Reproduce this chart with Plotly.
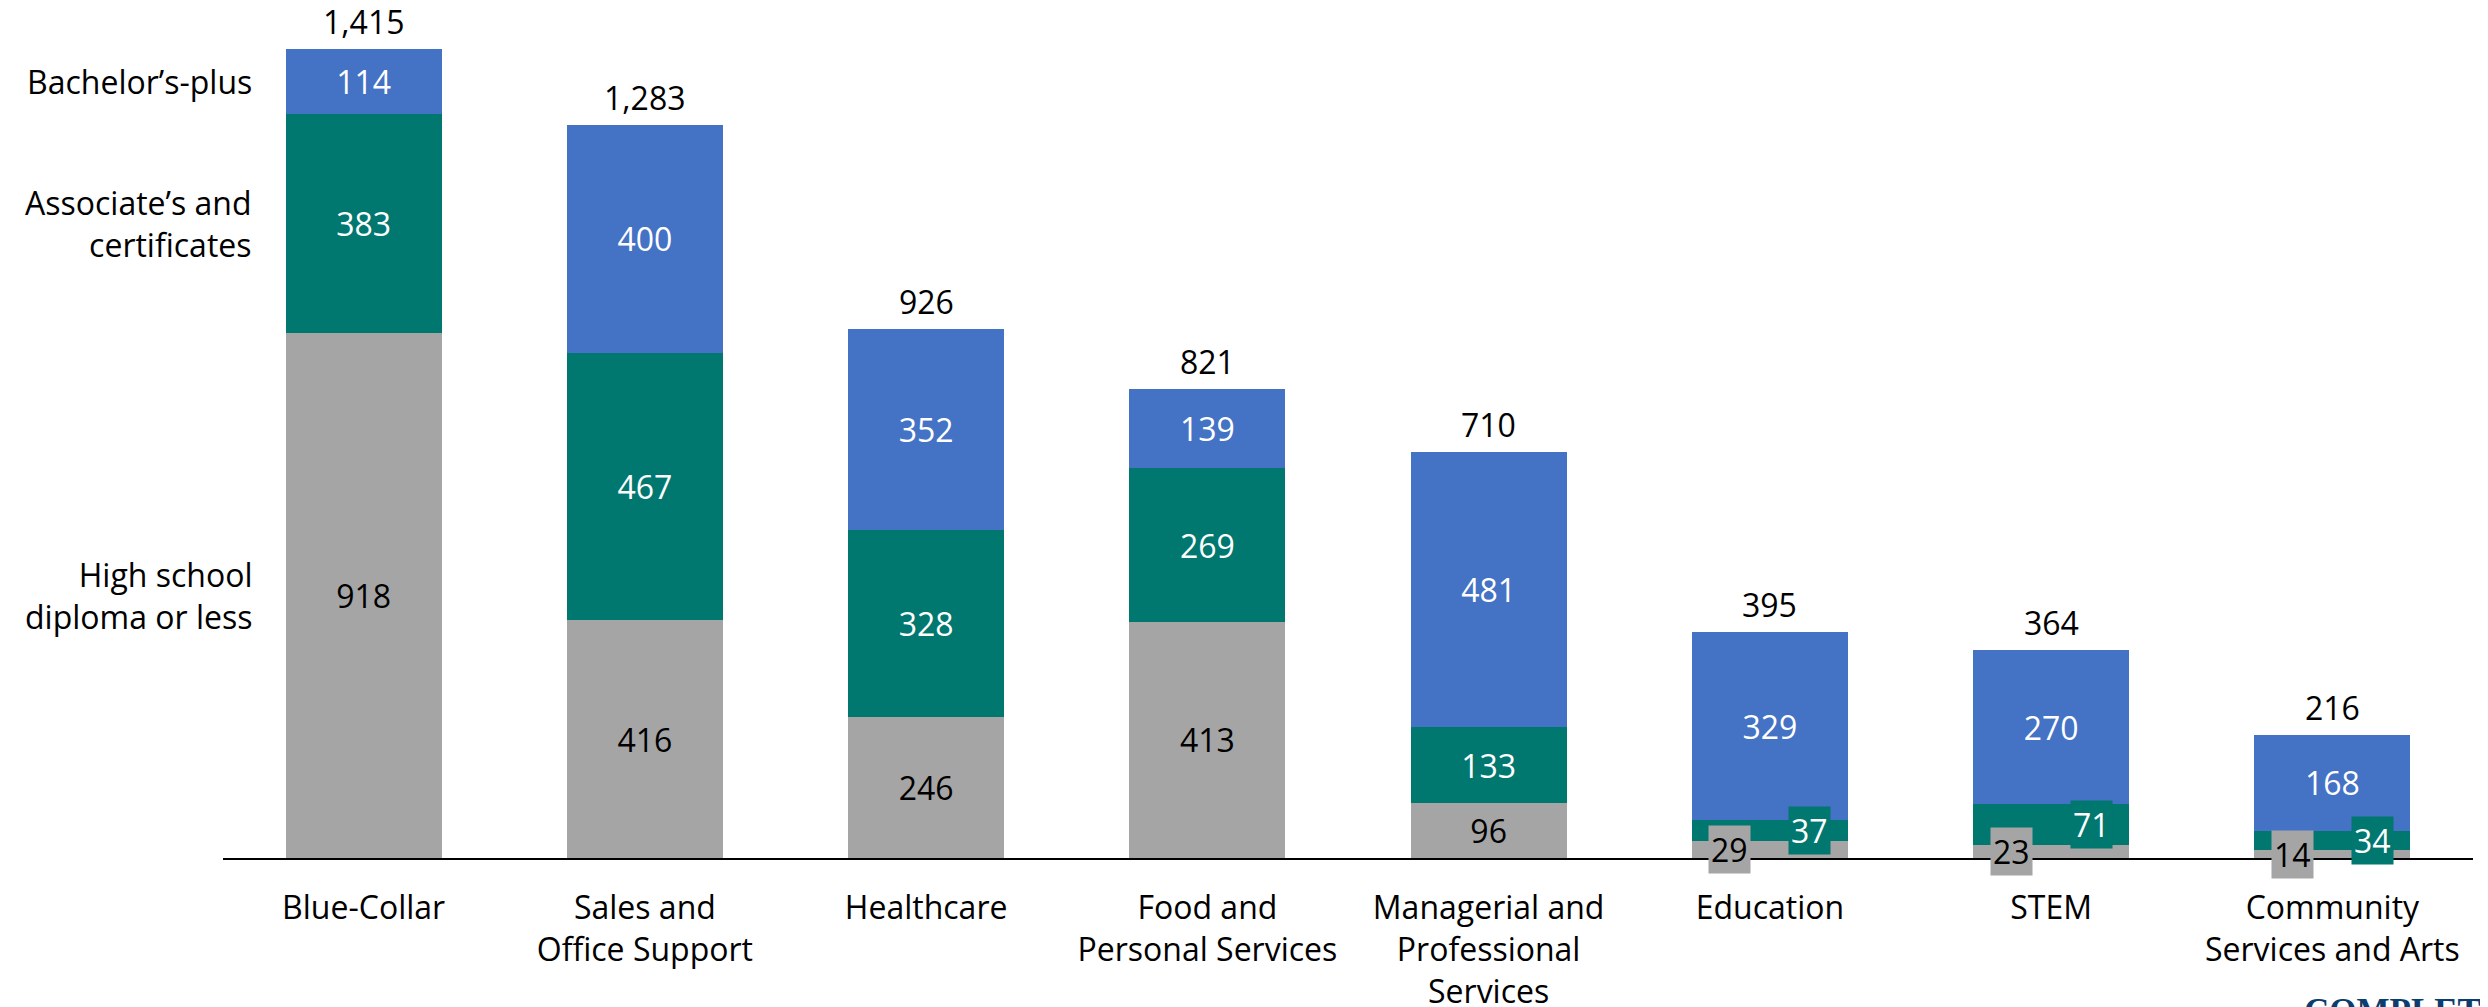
import plotly.graph_objects as go

# occupation groups (x), thousands of jobs by education level
categories = ["Blue-Collar", "Sales and<br>Office Support", "Healthcare",
              "Food and<br>Personal Services", "Managerial and<br>Professional<br>Services",
              "Education", "STEM", "Community<br>Services and Arts"]
hs_or_less = [918, 416, 246, 413, 96, 29, 23, 14]
associates = [383, 467, 328, 269, 133, 37, 71, 34]
bachelors = [114, 400, 352, 139, 481, 329, 270, 168]
totals = [1415, 1283, 926, 821, 710, 395, 364, 216]

series_names = ["High school<br>diploma or less", "Associate’s and<br>certificates", "Bachelor’s-plus"]
series_vals = [hs_or_less, associates, bachelors]
colors = ["#A5A5A5", "#00776F", "#4472C4"]
text_colors = ["black", "white", "white"]

FONT = "Open Sans"
FS = 32
SMALL = 80  # segments under this get a callout label beside the bar

fig = go.Figure()
for name, vals, col, tcol in zip(series_names, series_vals, colors, text_colors):
    fig.add_trace(go.Bar(
        x=categories, y=vals, name=name,
        marker=dict(color=col, line=dict(width=0)),
        text=[f"{v:,}" if v >= SMALL else "" for v in vals],
        textposition="inside", insidetextanchor="middle", textangle=0,
        textfont=dict(family=FONT, size=FS, color=tcol),
        hoverinfo="skip",
    ))

# callout labels for thin segments (gray to the left, green to the right)
for i, cat in enumerate(categories):
    base = 0
    for k, (vals, col, tcol) in enumerate(zip(series_vals, colors, text_colors)):
        v = vals[i]
        if v < SMALL:
            fig.add_annotation(
                x=cat, y=base + v / 2, text=f"{v:,}", showarrow=False,
                xshift=-40 if k == 0 else 40,
                font=dict(family=FONT, size=FS, color=tcol),
                bgcolor=col, borderpad=2,
            )
        base += v

# totals above bars
for cat, t in zip(categories, totals):
    fig.add_annotation(
        x=cat, y=t, text=f"{t:,}", showarrow=False,
        yanchor="bottom", yshift=4,
        font=dict(family=FONT, size=FS, color="black"),
    )

# series labels on the left, next to the first bar
base = 0
for name, vals in zip(series_names, series_vals):
    v = vals[0]
    fig.add_annotation(
        xref="paper", x=0.0138, y=base + v / 2, text=name, showarrow=False,
        xanchor="right", align="right",
        font=dict(family=FONT, size=FS, color="black"),
    )
    base += v

# logo fragment at bottom right
fig.add_annotation(
    xref="paper", yref="paper", x=0.924, y=-0.155, xanchor="left", yanchor="top",
    text="<b>COMPLETE COLLEGE AMERICA</b>", showarrow=False,
    font=dict(family="Liberation Serif", size=35, color="#0B3D6E"),
)

# page body adds an 8px offset, so margins are trimmed to compensate
fig.update_layout(
    barmode="stack", bargap=0.445,
    width=2488, height=1007,
    margin=dict(l=215, r=23, t=0, b=157),
    plot_bgcolor="white", paper_bgcolor="white",
    showlegend=False,
    xaxis=dict(showline=True, linecolor="black", linewidth=2, showgrid=False,
               tickfont=dict(family=FONT, size=FS, color="black"),
               ticks="", automargin=False, ticklabelstandoff=21),
    yaxis=dict(visible=False, range=[0, 1487], automargin=False),
)

fig.write_html("out.html")
